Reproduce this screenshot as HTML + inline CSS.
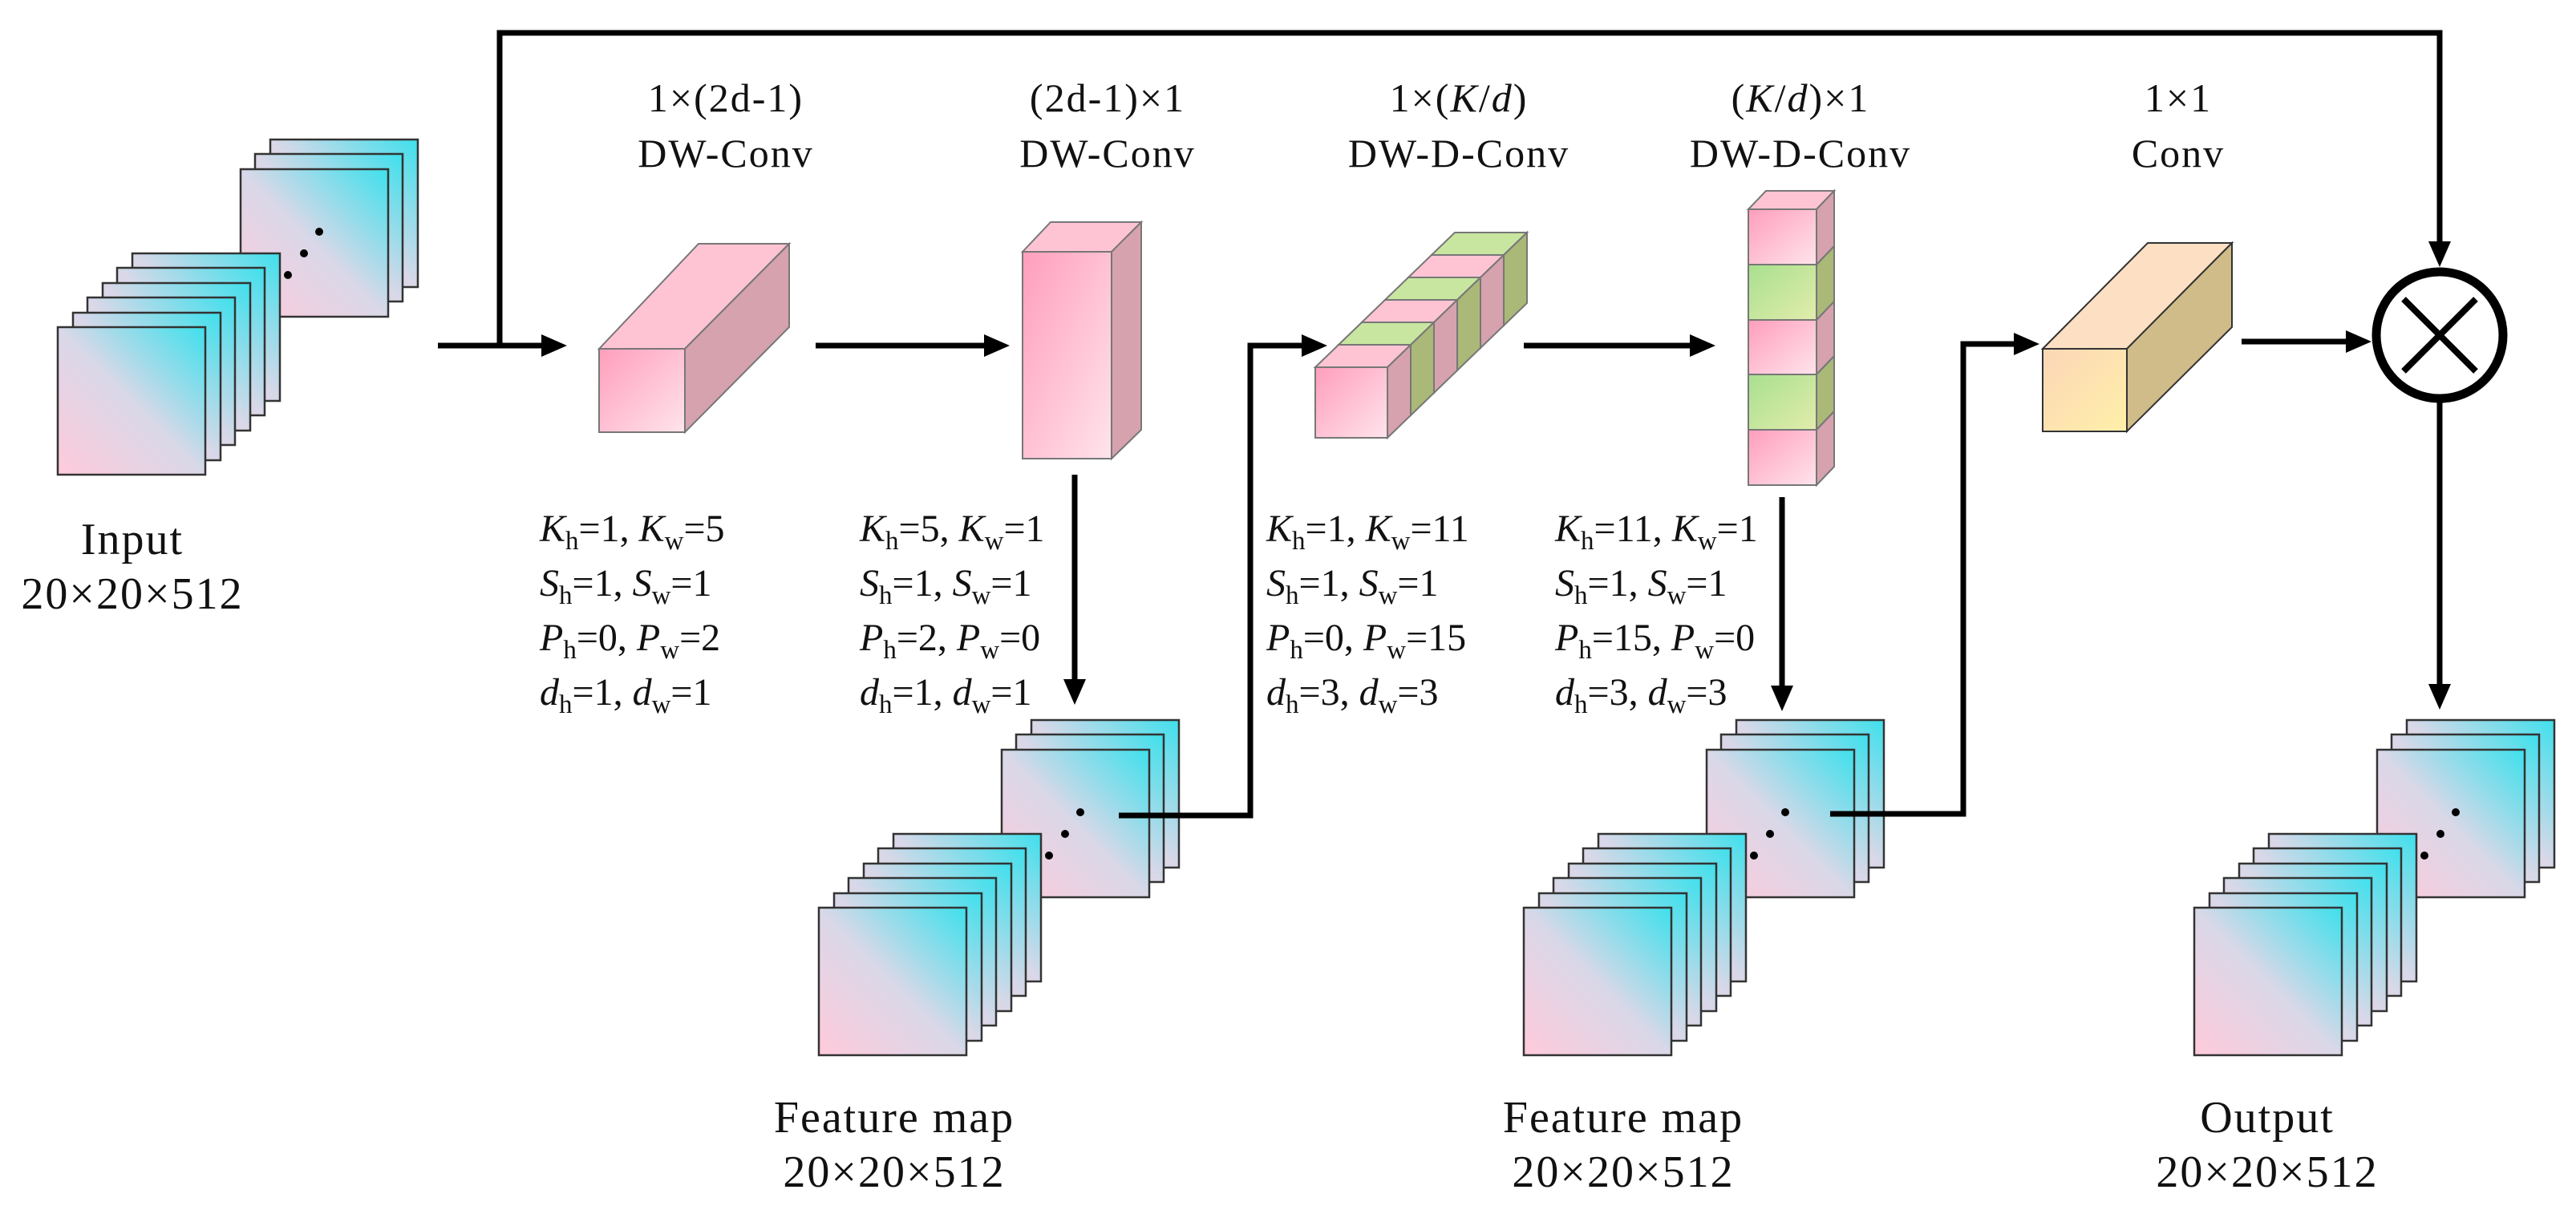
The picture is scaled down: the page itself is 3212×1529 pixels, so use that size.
<!DOCTYPE html>
<html><head><meta charset="utf-8"><style>
html,body{margin:0;padding:0;background:#fff;}
svg{display:block;}
text{font-family:"Liberation Serif",serif;fill:#111;}
</style></head><body>
<svg width="3212" height="1529" viewBox="0 0 3212 1529" xmlns="http://www.w3.org/2000/svg">
<defs>
<linearGradient id="fm" x1="0" y1="1" x2="1" y2="0">
<stop offset="0" stop-color="#ffcadb"/><stop offset="0.5" stop-color="#d9d8e8"/><stop offset="1" stop-color="#3ee0ec"/>
</linearGradient>
<linearGradient id="pk" x1="0" y1="0" x2="1" y2="1">
<stop offset="0" stop-color="#ff9ebc"/><stop offset="1" stop-color="#ffe4ec"/>
</linearGradient>
<linearGradient id="gr" x1="0" y1="0" x2="1" y2="1">
<stop offset="0" stop-color="#a8e08e"/><stop offset="1" stop-color="#e2ecac"/>
</linearGradient>
<linearGradient id="tn" x1="0" y1="0" x2="1" y2="1">
<stop offset="0" stop-color="#fcd6b8"/><stop offset="1" stop-color="#fff0a8"/>
</linearGradient>
<g id="fr"><rect x="0" y="0" width="184" height="184" fill="url(#fm)" stroke="#333" stroke-width="2.5"/></g>
<g id="stack">
<use href="#fr" x="265" y="-234"/><use href="#fr" x="246" y="-216"/><use href="#fr" x="228" y="-197"/>
<circle cx="326" cy="-119" r="5" fill="#000"/><circle cx="307" cy="-92" r="5" fill="#000"/><circle cx="287" cy="-65" r="5" fill="#000"/>
<use href="#fr" x="93" y="-92"/><use href="#fr" x="74" y="-74"/><use href="#fr" x="56" y="-55"/>
<use href="#fr" x="37" y="-37"/><use href="#fr" x="19" y="-18"/><use href="#fr" x="0" y="0"/>
</g>
</defs>

<use href="#stack" x="72" y="408"/>
<use href="#stack" x="1021" y="1132"/>
<use href="#stack" x="1900" y="1132"/>
<use href="#stack" x="2736" y="1132"/>

<g stroke="#000" stroke-width="7" fill="none">
<polyline points="623,431 623,41 3042,41 3042,305"/>
<line x1="546" y1="431" x2="680" y2="431"/>
<line x1="1017" y1="431" x2="1232" y2="431"/>
<line x1="1340" y1="592" x2="1340" y2="852"/>
<polyline points="1395,1017 1559,1017 1559,431 1628,431"/>
<line x1="1900" y1="431" x2="2112" y2="431"/>
<line x1="2222" y1="620" x2="2222" y2="860"/>
<polyline points="2282,1015 2448,1015 2448,429 2516,429"/>
<line x1="2795" y1="426" x2="2930" y2="426"/>
<line x1="3042" y1="500" x2="3042" y2="858"/>
</g>
<g fill="#000">
<polygon points="707,431 675,417 675,445"/>
<polygon points="1259,431 1227,417 1227,445"/>
<polygon points="1340,879 1326,847 1354,847"/>
<polygon points="1655,431 1623,417 1623,445"/>
<polygon points="2139,431 2107,417 2107,445"/>
<polygon points="2222,887 2208,855 2236,855"/>
<polygon points="2543,429 2511,415 2511,443"/>
<polygon points="2957,426 2925,412 2925,440"/>
<polygon points="3042,333 3028,301 3056,301"/>
<polygon points="3042,885 3028,853 3056,853"/>
</g>

<circle cx="3042" cy="418" r="79" fill="#fff" stroke="#000" stroke-width="11"/>
<g stroke="#000" stroke-width="8"><line x1="2997" y1="373" x2="3087" y2="463"/><line x1="3087" y1="373" x2="2997" y2="463"/></g>

<g stroke="#777" stroke-width="2">
<polygon points="747,435 871,304 984,304 854,435" fill="#ffc4d4"/>
<polygon points="854,435 984,304 984,408 854,539" fill="#d6a2ae"/>
<rect x="747" y="435" width="107" height="104" fill="url(#pk)"/>
<polygon points="1275,314 1310,277 1423,277 1386,314" fill="#ffc4d4"/>
<polygon points="1386,314 1423,277 1423,536 1386,572" fill="#d6a2ae"/>
<rect x="1275" y="314" width="111" height="258" fill="url(#pk)"/>
<g transform="translate(145,-140)"><polygon points="1640,458 1669,430 1759,430 1730,458" fill="#c8e6a0"/><polygon points="1730,458 1759,430 1759,518 1730,546" fill="#aab878"/><rect x="1640" y="458" width="90" height="88" fill="url(#gr)"/></g>
<g transform="translate(116,-112)"><polygon points="1640,458 1669,430 1759,430 1730,458" fill="#ffc4d4"/><polygon points="1730,458 1759,430 1759,518 1730,546" fill="#d6a2ae"/><rect x="1640" y="458" width="90" height="88" fill="url(#pk)"/></g>
<g transform="translate(87,-84)"><polygon points="1640,458 1669,430 1759,430 1730,458" fill="#c8e6a0"/><polygon points="1730,458 1759,430 1759,518 1730,546" fill="#aab878"/><rect x="1640" y="458" width="90" height="88" fill="url(#gr)"/></g>
<g transform="translate(58,-56)"><polygon points="1640,458 1669,430 1759,430 1730,458" fill="#ffc4d4"/><polygon points="1730,458 1759,430 1759,518 1730,546" fill="#d6a2ae"/><rect x="1640" y="458" width="90" height="88" fill="url(#pk)"/></g>
<g transform="translate(29,-28)"><polygon points="1640,458 1669,430 1759,430 1730,458" fill="#c8e6a0"/><polygon points="1730,458 1759,430 1759,518 1730,546" fill="#aab878"/><rect x="1640" y="458" width="90" height="88" fill="url(#gr)"/></g>
<g><polygon points="1640,458 1669,430 1759,430 1730,458" fill="#ffc4d4"/><polygon points="1730,458 1759,430 1759,518 1730,546" fill="#d6a2ae"/><rect x="1640" y="458" width="90" height="88" fill="url(#pk)"/></g>
<polygon points="2180,261 2202,238 2287,238 2265,261" fill="#ffc4d4"/>
<polygon points="2265,261 2287,238 2287,307 2265,330" fill="#d6a2ae"/><rect x="2180" y="261" width="85" height="69" fill="url(#pk)"/>
<polygon points="2265,330 2287,307 2287,376 2265,399" fill="#aab878"/><rect x="2180" y="330" width="85" height="69" fill="url(#gr)"/>
<polygon points="2265,399 2287,376 2287,444 2265,467" fill="#d6a2ae"/><rect x="2180" y="399" width="85" height="68" fill="url(#pk)"/>
<polygon points="2265,467 2287,444 2287,513 2265,536" fill="#aab878"/><rect x="2180" y="467" width="85" height="69" fill="url(#gr)"/>
<polygon points="2265,536 2287,513 2287,582 2265,605" fill="#d6a2ae"/><rect x="2180" y="536" width="85" height="69" fill="url(#pk)"/>
</g>
<g stroke="#333" stroke-width="2">
<polygon points="2547,435 2678,303 2783,303 2652,435" fill="#fde0c4"/>
<polygon points="2652,435 2783,303 2783,408 2652,538" fill="#d0bc88"/>
<rect x="2547" y="435" width="105" height="103" fill="url(#tn)"/>
</g>

<g font-size="50" text-anchor="middle" letter-spacing="2">
<text x="905" y="139">1×(2d-1)</text><text x="905" y="208">DW-Conv</text>
<text x="1381" y="139">(2d-1)×1</text><text x="1381" y="208">DW-Conv</text>
<text x="1819" y="139">1×(<tspan font-style="italic">K</tspan>/<tspan font-style="italic">d</tspan>)</text><text x="1819" y="208">DW-D-Conv</text>
<text x="2245" y="139">(<tspan font-style="italic">K</tspan>/<tspan font-style="italic">d</tspan>)×1</text><text x="2245" y="208">DW-D-Conv</text>
<text x="2716" y="139">1×1</text><text x="2716" y="208">Conv</text>
</g>
<g font-size="56" text-anchor="middle" letter-spacing="2">
<text x="165" y="691">Input</text><text x="165" y="759">20×20×512</text>
<text x="1115" y="1412">Feature map</text><text x="1115" y="1480">20×20×512</text>
<text x="2024" y="1412">Feature map</text><text x="2024" y="1480">20×20×512</text>
<text x="2827" y="1412">Output</text><text x="2827" y="1480">20×20×512</text>
</g>

<g font-size="48">
<text x="673" y="675"><tspan font-style="italic">K</tspan><tspan font-size="33" dy="10">h</tspan><tspan dy="-10">=1, </tspan><tspan font-style="italic">K</tspan><tspan font-size="33" dy="10">w</tspan><tspan dy="-10">=5</tspan></text>
<text x="673" y="743"><tspan font-style="italic">S</tspan><tspan font-size="33" dy="10">h</tspan><tspan dy="-10">=1, </tspan><tspan font-style="italic">S</tspan><tspan font-size="33" dy="10">w</tspan><tspan dy="-10">=1</tspan></text>
<text x="673" y="811"><tspan font-style="italic">P</tspan><tspan font-size="33" dy="10">h</tspan><tspan dy="-10">=0, </tspan><tspan font-style="italic">P</tspan><tspan font-size="33" dy="10">w</tspan><tspan dy="-10">=2</tspan></text>
<text x="673" y="879"><tspan font-style="italic">d</tspan><tspan font-size="33" dy="10">h</tspan><tspan dy="-10">=1, </tspan><tspan font-style="italic">d</tspan><tspan font-size="33" dy="10">w</tspan><tspan dy="-10">=1</tspan></text>

<text x="1072" y="675"><tspan font-style="italic">K</tspan><tspan font-size="33" dy="10">h</tspan><tspan dy="-10">=5, </tspan><tspan font-style="italic">K</tspan><tspan font-size="33" dy="10">w</tspan><tspan dy="-10">=1</tspan></text>
<text x="1072" y="743"><tspan font-style="italic">S</tspan><tspan font-size="33" dy="10">h</tspan><tspan dy="-10">=1, </tspan><tspan font-style="italic">S</tspan><tspan font-size="33" dy="10">w</tspan><tspan dy="-10">=1</tspan></text>
<text x="1072" y="811"><tspan font-style="italic">P</tspan><tspan font-size="33" dy="10">h</tspan><tspan dy="-10">=2, </tspan><tspan font-style="italic">P</tspan><tspan font-size="33" dy="10">w</tspan><tspan dy="-10">=0</tspan></text>
<text x="1072" y="879"><tspan font-style="italic">d</tspan><tspan font-size="33" dy="10">h</tspan><tspan dy="-10">=1, </tspan><tspan font-style="italic">d</tspan><tspan font-size="33" dy="10">w</tspan><tspan dy="-10">=1</tspan></text>

<text x="1579" y="675"><tspan font-style="italic">K</tspan><tspan font-size="33" dy="10">h</tspan><tspan dy="-10">=1, </tspan><tspan font-style="italic">K</tspan><tspan font-size="33" dy="10">w</tspan><tspan dy="-10">=11</tspan></text>
<text x="1579" y="743"><tspan font-style="italic">S</tspan><tspan font-size="33" dy="10">h</tspan><tspan dy="-10">=1, </tspan><tspan font-style="italic">S</tspan><tspan font-size="33" dy="10">w</tspan><tspan dy="-10">=1</tspan></text>
<text x="1579" y="811"><tspan font-style="italic">P</tspan><tspan font-size="33" dy="10">h</tspan><tspan dy="-10">=0, </tspan><tspan font-style="italic">P</tspan><tspan font-size="33" dy="10">w</tspan><tspan dy="-10">=15</tspan></text>
<text x="1579" y="879"><tspan font-style="italic">d</tspan><tspan font-size="33" dy="10">h</tspan><tspan dy="-10">=3, </tspan><tspan font-style="italic">d</tspan><tspan font-size="33" dy="10">w</tspan><tspan dy="-10">=3</tspan></text>

<text x="1939" y="675"><tspan font-style="italic">K</tspan><tspan font-size="33" dy="10">h</tspan><tspan dy="-10">=11, </tspan><tspan font-style="italic">K</tspan><tspan font-size="33" dy="10">w</tspan><tspan dy="-10">=1</tspan></text>
<text x="1939" y="743"><tspan font-style="italic">S</tspan><tspan font-size="33" dy="10">h</tspan><tspan dy="-10">=1, </tspan><tspan font-style="italic">S</tspan><tspan font-size="33" dy="10">w</tspan><tspan dy="-10">=1</tspan></text>
<text x="1939" y="811"><tspan font-style="italic">P</tspan><tspan font-size="33" dy="10">h</tspan><tspan dy="-10">=15, </tspan><tspan font-style="italic">P</tspan><tspan font-size="33" dy="10">w</tspan><tspan dy="-10">=0</tspan></text>
<text x="1939" y="879"><tspan font-style="italic">d</tspan><tspan font-size="33" dy="10">h</tspan><tspan dy="-10">=3, </tspan><tspan font-style="italic">d</tspan><tspan font-size="33" dy="10">w</tspan><tspan dy="-10">=3</tspan></text>
</g>
</svg>
</body></html>
